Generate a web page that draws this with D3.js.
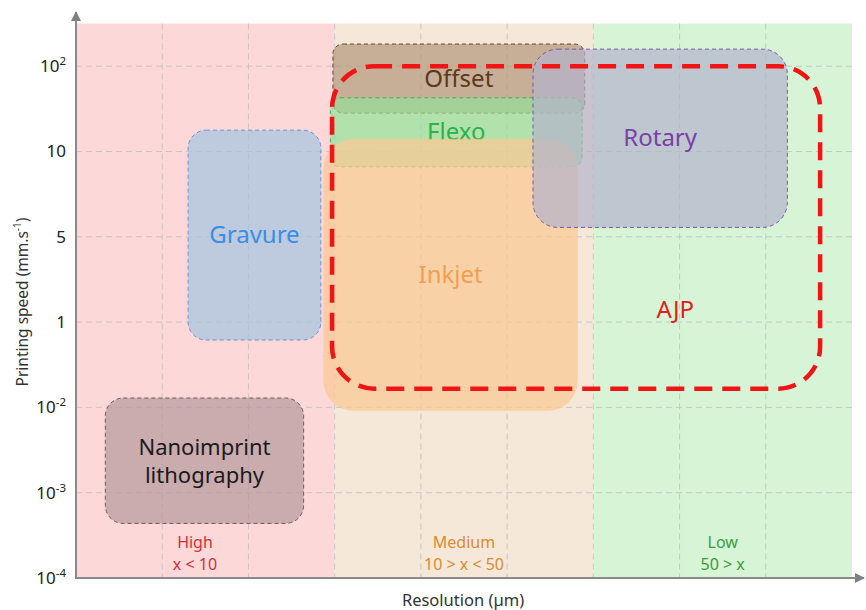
<!DOCTYPE html>
<html>
<head>
<meta charset="utf-8">
<script src="https://cdn.jsdelivr.net/npm/d3@7"></script>
<style>
  body { margin: 0; background: #fff; }
  text { font-family: "Noto Sans", "Open Sans", sans-serif; }
</style>
</head>
<body>
<script>
(() => {
    var W = 866, H = 610;

    // y ticks (bottom -> top), shown as base + superscript
    var yTickBase = ["10", "10", "10", "1", "5", "10", "10"];
    var yTickExp = ["-4", "-3", "-2", "", "", "", "2"];

    // resolution zones (x in grid columns)
    var zoneNames = ["High", "Medium", "Low"];
    var zoneRanges = ["x < 10", "10 > x < 50", "50 > x"];
    var zoneStart = [0, 3, 6];
    var zoneEnd = [3, 6, 9];
    var zoneFill = ["#fdd8d8", "#f6e8d8", "#d7f4d7"];
    var zoneText = ["#d0303c", "#d98c32", "#3c9c3c"];
    var zoneLabelX = [1.38, 4.5, 7.5];

    // printing technologies (x = column units, y = tick index units)
    var techNames = ["Nanoimprint\nlithography", "Gravure", "Offset", "Flexo", "Inkjet", "Rotary", "AJP"];
    var techX0 = [0.34, 1.30, 2.98, 2.95, 2.87, 5.30, 2.97];
    var techX1 = [2.64, 2.84, 5.90, 5.87, 5.82, 8.25, 8.63];
    var techY0 = [0.64, 2.79, 5.45, 4.82, 1.96, 4.11, 2.22];
    var techY1 = [2.11, 5.25, 6.26, 5.63, 5.15, 6.20, 6.00];
    var techLabelX = [null, null, null, null, null, null, 6.95];
    var techLabelY = [null, null, null, null, null, null, 3.14];

    var techFill = ["#b3989c", "#a2c5df", "#b4957b", "#95df99", "#f9c893", "#b4b4cc", "none"];
    var techStroke = ["#6e5a5c", "#6f93cf", "#5c4636", "#5aa85a", "none", "#7a5aa8", "#f01414"];
    var techText = ["#1a1a1a", "#3a8ee6", "#5b3a1e", "#2db14a", "#f0a050", "#7b3fa8", "#e02020"];
    var techSize = [22, 24, 24, 24, 24, 24, 24];
    var techRadius = [18, 18, 10, 10, 30, 25, 42];

    var svg = d3.select("body").append("svg")
        .attr("width", W).attr("height", H);

    var x = d3.scaleLinear().domain([0, 9]).range([76, 852]);
    var y = d3.scaleLinear().domain([0, 6]).range([578, 578 - 6 * 85.3]);
    var yTop = y(6.5);

    // zones
    svg.selectAll(".zone").data(zoneNames).enter().append("rect")
        .attr("class", "zone")
        .attr("x", (d, i) => x(zoneStart[i]))
        .attr("width", (d, i) => x(zoneEnd[i]) - x(zoneStart[i]))
        .attr("y", yTop)
        .attr("height", y(0) - yTop)
        .attr("fill", (d, i) => zoneFill[i]);

    // grid
    var grid = svg.append("g").attr("stroke", "#bdbdbd").attr("stroke-width", 1)
        .attr("stroke-dasharray", "6,4").attr("opacity", 0.75);
    grid.selectAll(".vg").data(d3.range(1, 9)).enter().append("line")
        .attr("x1", d => x(d)).attr("x2", d => x(d))
        .attr("y1", yTop).attr("y2", y(0));
    grid.selectAll(".hg").data(d3.range(1, 7)).enter().append("line")
        .attr("x1", x(0)).attr("x2", x(9))
        .attr("y1", d => y(d)).attr("y2", d => y(d));

    // tech boxes
    var boxes = svg.selectAll(".tech").data(techNames).enter().append("g").attr("class", "tech");
    boxes.append("rect")
        .attr("x", (d, i) => x(techX0[i]))
        .attr("y", (d, i) => y(techY1[i]))
        .attr("width", (d, i) => x(techX1[i]) - x(techX0[i]))
        .attr("height", (d, i) => y(techY0[i]) - y(techY1[i]))
        .attr("rx", (d, i) => techRadius[i])
        .attr("fill", (d, i) => techFill[i])
        .attr("fill-opacity", (d, i) => i == 4 ? 0.72 : 0.7)
        .attr("stroke", (d, i) => techStroke[i])
        .attr("stroke-width", (d, i) => i == 6 ? 4.5 : 1)
        .attr("stroke-dasharray", (d, i) => i == 6 ? "18,10" : "4,3");

    boxes.append("text")
        .attr("text-anchor", "middle")
        .attr("fill", (d, i) => techText[i])
        .attr("font-size", (d, i) => techSize[i])
        .attr("transform", (d, i) => {
            var cx = techLabelX[i] != null ? x(techLabelX[i]) : (x(techX0[i]) + x(techX1[i])) / 2;
            var cy = techLabelY[i] != null ? y(techLabelY[i]) : (y(techY0[i]) + y(techY1[i])) / 2;
            return "translate(" + [cx, cy] + ")";
        })
        .each(function(d) {
            var lines = d.split("\n");
            var t = d3.select(this);
            lines.forEach((l, k) => {
                t.append("tspan").attr("x", 0)
                    .attr("y", (k - (lines.length - 1) / 2) * 28 + 8)
                    .text(l);
            });
        });

    // zone labels
    var zl = svg.selectAll(".zl").data(zoneNames).enter().append("text")
        .attr("class", "zl")
        .attr("text-anchor", "middle")
        .attr("font-size", 16)
        .attr("fill", (d, i) => zoneText[i]);
    zl.append("tspan").attr("x", (d, i) => x(zoneLabelX[i])).attr("y", 548).text(d => d);
    zl.append("tspan").attr("x", (d, i) => x(zoneLabelX[i])).attr("y", 570).text((d, i) => zoneRanges[i]);

    // axes
    var defs = svg.append("defs");
    defs.append("marker").attr("id", "arr")
        .attr("viewBox", "0 0 10 10").attr("refX", 9).attr("refY", 5)
        .attr("markerWidth", 5).attr("markerHeight", 5).attr("orient", "auto")
        .append("path").attr("d", "M0,0L10,5L0,10z").attr("fill", "#808080");

    svg.append("line").attr("x1", x(0)).attr("y1", y(0) + 1).attr("x2", x(0)).attr("y2", 12)
        .attr("stroke", "#8a8a8a").attr("stroke-width", 2).attr("marker-end", "url(#arr)");
    svg.append("line").attr("x1", x(0) - 1).attr("y1", y(0)).attr("x2", 864).attr("y2", y(0))
        .attr("stroke", "#8a8a8a").attr("stroke-width", 2).attr("marker-end", "url(#arr)");

    var yAxis = d3.axisLeft(y).tickValues(d3.range(0, 7)).tickSize(0).tickPadding(10).tickFormat(() => "");
    var yg = svg.append("g").attr("transform", "translate(" + [x(0), 0] + ")").call(yAxis);
    yg.select(".domain").remove();
    yg.selectAll(".tick text")
        .attr("font-size", 17).attr("fill", "#222").attr("font-family", "'Noto Sans', sans-serif")
        .each(function(d) {
            var t = d3.select(this);
            t.append("tspan").text(yTickBase[d]);
            if (yTickExp[d]) {
                t.append("tspan").attr("font-size", 11.5).attr("dy", -7).text(yTickExp[d]);
            }
        });

    svg.append("text")
        .attr("transform", "translate(" + [28, 302] + ")rotate(-90)")
        .attr("text-anchor", "middle").attr("font-size", 15.5).attr("fill", "#333")
        .call(t => {
            t.append("tspan").text("Printing speed (mm.s");
            t.append("tspan").attr("font-size", 10).attr("dy", -7).text("-1");
            t.append("tspan").attr("dy", 7).text(")");
        });

    svg.append("text")
        .attr("x", 463).attr("y", 606)
        .attr("text-anchor", "middle").attr("font-size", 16.5).attr("fill", "#333")
        .text("Resolution (µm)");
})();
</script>
</body>
</html>
